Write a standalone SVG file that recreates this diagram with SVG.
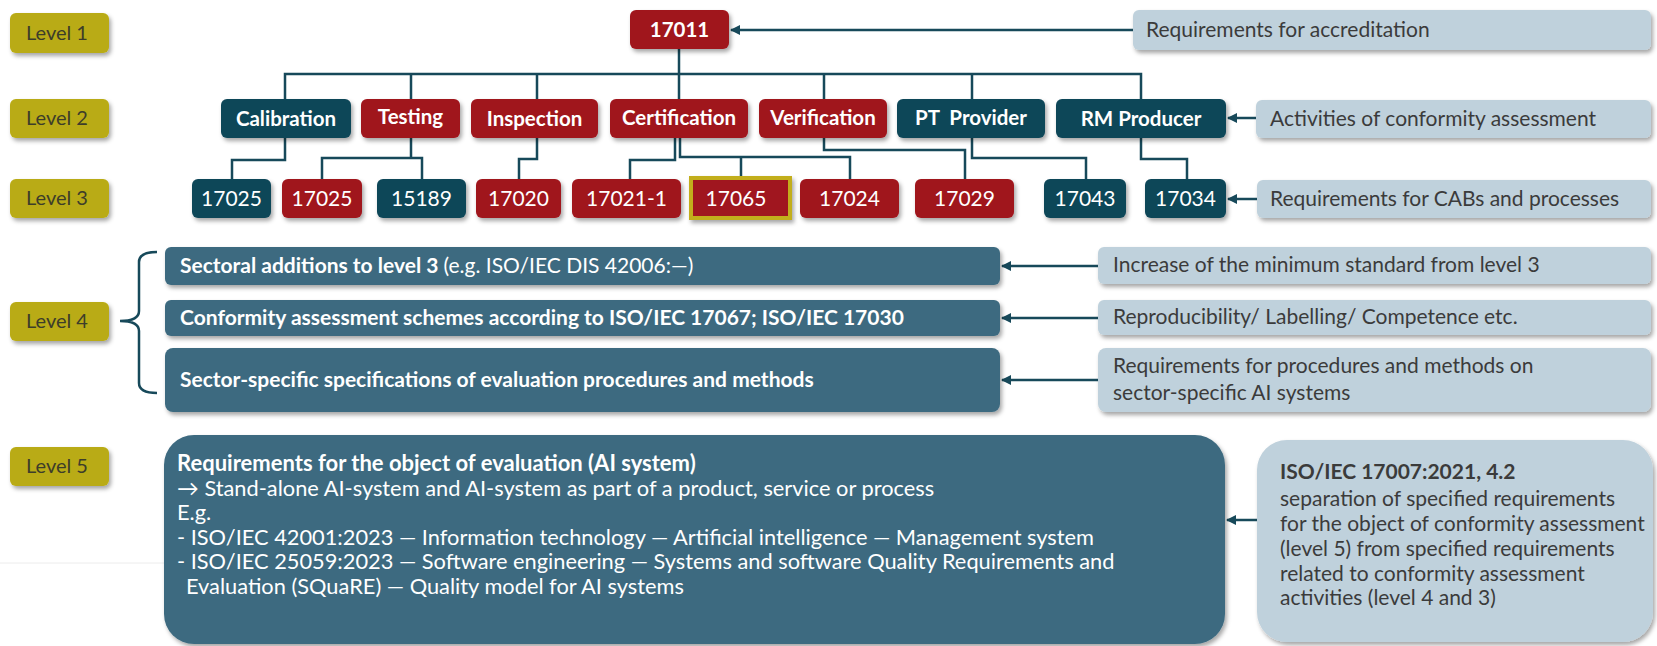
<svg xmlns="http://www.w3.org/2000/svg" width="1657" height="646" viewBox="0 0 1657 646">
<style>
text{font-family:Lato,"Open Sans","DejaVu Sans",sans-serif;}
.lvl rect{fill:#B9AB12;}
.lvl text{fill:#3D3D2A;font-size:20px;text-anchor:middle;}
.dk{fill:#0C4658;}
.rd{fill:#A0161F;}
.st{fill:#3E6B80;}
.lt{fill:#BFD1DC;}
.sh{filter:url(#ds);}
.nb{fill:#fff;font-size:20.5px;font-weight:bold;text-anchor:middle;}
.nr{fill:#fff;font-size:21px;text-anchor:middle;}
.an{fill:#3B3B3B;font-size:21px;}
.wb{fill:#fff;font-size:21px;font-weight:bold;}
.l5b{fill:#fff;font-size:22px;font-weight:bold;}
.l5r{fill:#fff;font-size:21.8px;}
.con{fill:none;stroke:#17495A;stroke-width:2.5;}
.arr{fill:none;stroke:#17495A;stroke-width:2.5;marker-end:url(#ah);}
</style>
<defs>
<filter id="ds" x="-10%" y="-20%" width="120%" height="150%">
<feDropShadow dx="2" dy="3" stdDeviation="2" flood-color="#000" flood-opacity="0.35"/>
</filter>
<marker id="ah" viewBox="0 0 10 10" refX="9" refY="5" markerWidth="4" markerHeight="4" orient="auto" markerUnits="strokeWidth">
<path d="M0,0 L10,5 L0,10 Z" fill="#17495A"/>
</marker>
</defs>
<rect width="1657" height="646" fill="#fff"/>
<line x1="0" y1="563" x2="164" y2="563" stroke="#ececec" stroke-width="1"/>

<g id="levels" class="lvl">
<g id="level1"><rect class="sh" x="10" y="13" width="99" height="40" rx="6"/><text x="57" y="40">Level 1</text></g>
<g id="level2"><rect class="sh" x="10" y="99" width="99" height="39" rx="6"/><text x="57" y="125">Level 2</text></g>
<g id="level3"><rect class="sh" x="10" y="179" width="99" height="39" rx="6"/><text x="57" y="205">Level 3</text></g>
<g id="level4"><rect class="sh" x="10" y="302" width="99" height="39" rx="6"/><text x="57" y="328">Level 4</text></g>
<g id="level5"><rect class="sh" x="10" y="447" width="99" height="39" rx="6"/><text x="57" y="473">Level 5</text></g>
</g>

<g id="connectors">
<path class="arr" d="M1133,30 H731"/>
<path class="con" d="M679,49 V74"/>
<path class="con" d="M285,99 V74 H1141 V99"/>
<path class="con" d="M411,74 V99 M537,74 V99 M679,74 V99 M824,74 V99 M972,74 V99"/>
<path class="con" d="M285,138 V160 H232 V179"/>
<path class="con" d="M411,138 V158 M322,179 V158 H422 V179"/>
<path class="con" d="M537,138 V159 H519 V179"/>
<path class="con" d="M675,138 V160 H630 V179"/>
<path class="con" d="M680,138 V157 H850 V179 M741,157 V176"/>
<path class="con" d="M824,138 V150 H965 V179"/>
<path class="con" d="M972,138 V158 H1086 V179"/>
<path class="con" d="M1141,138 V159 H1187 V179"/>
<path class="arr" d="M1256,118 H1228"/>
<path class="arr" d="M1257,199 H1228"/>
<path class="arr" d="M1098,266 H1002"/>
<path class="arr" d="M1098,318 H1002"/>
<path class="arr" d="M1098,380 H1002"/>
<path class="arr" d="M1257,520 H1227"/>
<path class="con" d="M157,252 Q139,252 139,262 V311 Q139,321 120,321 Q139,321 139,331 V383 Q139,393 157,393"/>
</g>

<g id="n17011"><rect class="rd sh" x="630" y="10" width="99" height="39" rx="6"/><text class="nb" x="679.5" y="37">17011</text></g>
<g id="accreditation"><rect class="lt sh" x="1133" y="10" width="518" height="40" rx="6"/><text class="an" x="1146" y="37">Requirements for accreditation</text></g>

<g id="calibration"><rect class="dk sh" x="221" y="99" width="130" height="39" rx="6"/><text class="nb" x="286" y="126">Calibration</text></g>
<g id="testing"><rect class="rd sh" x="361" y="99" width="99" height="39" rx="6"/><text class="nb" x="410.5" y="124">Testing</text></g>
<g id="inspection"><rect class="rd sh" x="471" y="99" width="127" height="39" rx="6"/><text class="nb" x="534.5" y="126">Inspection</text></g>
<g id="certification"><rect class="rd sh" x="610" y="99" width="138" height="39" rx="6"/><text class="nb" x="679" y="125">Certification</text></g>
<g id="verification"><rect class="rd sh" x="759" y="99" width="128" height="39" rx="6"/><text class="nb" x="823" y="125">Verification</text></g>
<g id="ptprovider"><rect class="dk sh" x="897" y="99" width="148" height="39" rx="6"/><text class="nb" x="971" y="125" xml:space="preserve">PT  Provider</text></g>
<g id="rmproducer"><rect class="dk sh" x="1056" y="99" width="170" height="39" rx="6"/><text class="nb" x="1141" y="126">RM Producer</text></g>
<g id="activities"><rect class="lt sh" x="1256" y="100" width="395" height="38" rx="6"/><text class="an" x="1270" y="126">Activities of conformity assessment</text></g>

<g id="n17025a"><rect class="dk sh" x="192" y="179" width="79" height="39" rx="6"/><text class="nr" x="231.5" y="206">17025</text></g>
<g id="n17025b"><rect class="rd sh" x="282" y="179" width="80" height="39" rx="6"/><text class="nr" x="322" y="206">17025</text></g>
<g id="n15189"><rect class="dk sh" x="377" y="179" width="89" height="39" rx="6"/><text class="nr" x="421.5" y="206">15189</text></g>
<g id="n17020"><rect class="rd sh" x="476" y="179" width="85" height="39" rx="6"/><text class="nr" x="518.5" y="206">17020</text></g>
<g id="n17021"><rect class="rd sh" x="572" y="179" width="109" height="39" rx="6"/><text class="nr" x="626.5" y="206">17021-1</text></g>
<g id="n17065"><rect class="sh" x="689" y="176" width="103" height="44" fill="#C2AE1C"/><rect class="rd" x="693" y="180" width="95" height="36"/><text class="nr" x="736" y="206">17065</text></g>
<g id="n17024"><rect class="rd sh" x="800" y="179" width="99" height="39" rx="6"/><text class="nr" x="849.5" y="206">17024</text></g>
<g id="n17029"><rect class="rd sh" x="915" y="179" width="99" height="39" rx="6"/><text class="nr" x="964.5" y="206">17029</text></g>
<g id="n17043"><rect class="dk sh" x="1044" y="179" width="82" height="39" rx="6"/><text class="nr" x="1085" y="206">17043</text></g>
<g id="n17034"><rect class="dk sh" x="1145" y="179" width="81" height="39" rx="6"/><text class="nr" x="1185.5" y="206">17034</text></g>
<g id="cabs"><rect class="lt sh" x="1257" y="180" width="394" height="38" rx="6"/><text class="an" x="1270" y="206">Requirements for CABs and processes</text></g>

<g id="sectoral"><rect class="st sh" x="165" y="247" width="835" height="38" rx="6"/><text class="wb" x="180" y="273">Sectoral additions to level 3 <tspan font-weight="normal">(e.g. ISO/IEC DIS 42006:—)</tspan></text></g>
<g id="schemes"><rect class="st sh" x="165" y="300" width="835" height="36" rx="6"/><text class="wb" x="180" y="325">Conformity assessment schemes according to ISO/IEC 17067; ISO/IEC 17030</text></g>
<g id="specs"><rect class="st sh" x="165" y="348" width="835" height="64" rx="8"/><text class="wb" x="180" y="387" font-size="22px">Sector-specific specifications of evaluation procedures and methods</text></g>

<g id="increase"><rect class="lt sh" x="1098" y="247" width="553" height="37" rx="6"/><text class="an" x="1113" y="272">Increase of the minimum standard from level 3</text></g>
<g id="reproducibility"><rect class="lt sh" x="1098" y="300" width="553" height="35" rx="6"/><text class="an" x="1113" y="324">Reproducibility/ Labelling/ Competence etc.</text></g>
<g id="procedures"><rect class="lt sh" x="1098" y="348" width="553" height="64" rx="8"/><text class="an" x="1113" y="373">Requirements for procedures and methods on</text><text class="an" x="1113" y="400">sector-specific AI systems</text></g>

<g id="object"><rect class="st sh" x="164" y="435" width="1061" height="209" rx="30"/>
<text class="l5b" x="177" y="471">Requirements for the object of evaluation (AI system)</text>
<text class="l5r" x="177" y="495.5">→ Stand-alone AI-system and AI-system as part of a product, service or process</text>
<text class="l5r" x="177" y="520">E.g.</text>
<text class="l5r" x="177" y="544.5">- ISO/IEC 42001:2023 — Information technology — Artificial intelligence — Management system</text>
<text class="l5r" x="177" y="569">- ISO/IEC 25059:2023 — Software engineering — Systems and software Quality Requirements and</text>
<text class="l5r" x="186" y="593.5">Evaluation (SQuaRE) — Quality model for AI systems</text>
</g>

<g id="iso17007"><rect class="lt sh" x="1257" y="440" width="396" height="202" rx="30"/>
<text class="an" x="1280" y="479" font-weight="bold">ISO/IEC 17007:2021, 4.2</text>
<text class="an" x="1280" y="506">separation of specified requirements</text>
<text class="an" x="1280" y="531">for the object of conformity assessment</text>
<text class="an" x="1280" y="556">(level 5) from specified requirements</text>
<text class="an" x="1280" y="581">related to conformity assessment</text>
<text class="an" x="1280" y="605">activities (level 4 and 3)</text>
</g>
</svg>
